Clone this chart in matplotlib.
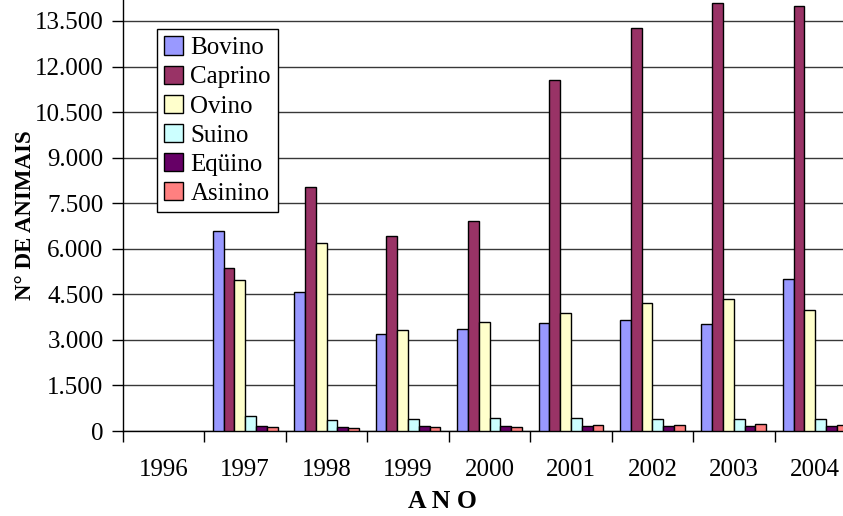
import numpy as np
import matplotlib
matplotlib.use("Agg")
import matplotlib.pyplot as plt
from matplotlib.ticker import FuncFormatter, MultipleLocator, FixedLocator

plt.rcParams['font.family'] = ['Liberation Serif', 'DejaVu Serif']

anos = ['1996', '1997', '1998', '1999', '2000', '2001', '2002', '2003', '2004']
nan = np.nan
bovino = [nan, 6580, 4590, 3210, 3350, 3560, 3660, 3520, 4990]
caprino = [nan, 5360, 8030, 6420, 6930, 11540, 13270, 14080, 14000]
ovino = [nan, 4970, 6180, 3340, 3600, 3890, 4200, 4340, 4000]
suino = [nan, 490, 370, 410, 420, 430, 410, 390, 390]
equino = [nan, 150, 145, 155, 165, 165, 155, 155, 155]
asinino = [nan, 120, 90, 120, 120, 200, 200, 220, 210]

series = [('Bovino', bovino, '#9999FF'),
          ('Caprino', caprino, '#993366'),
          ('Ovino', ovino, '#FFFFCC'),
          ('Suino', suino, '#CCFFFF'),
          ('Eqüino', equino, '#660066'),
          ('Asinino', asinino, '#FF8080')]

fig = plt.figure(figsize=(8.43, 5.16), dpi=100)
ax = fig.add_axes([123/843, 85/516, 733/843, 431/516])

x = np.arange(len(anos))
w = 0.1325
for i, (nome, vals, cor) in enumerate(series):
    ax.bar(x + (i - 2.5) * w, vals, w, color=cor, edgecolor='black',
           linewidth=1, label=nome, zorder=3)

ax.set_xlim(-0.5, len(anos) - 0.5)
ax.set_ylim(0, 14190)
ax.yaxis.set_major_locator(MultipleLocator(1500))
ax.yaxis.set_major_formatter(FuncFormatter(lambda v, p: f"{v:,.0f}".replace(',', '.')))
ax.grid(axis='y', color='#383838', linewidth=1, zorder=0)

ax.set_xticks(x)
ax.set_xticklabels(anos)
ax.xaxis.set_minor_locator(FixedLocator(np.arange(-0.5, len(anos), 1.0)))
ax.tick_params(axis='x', which='major', length=0, pad=20, labelsize=18)
ax.tick_params(axis='x', which='minor', length=8, width=1, direction='out')
ax.tick_params(axis='y', length=8, width=1, pad=6, labelsize=18)

for s in ['top', 'right']:
    ax.spines[s].set_visible(False)
ax.spines['left'].set_linewidth(1)
ax.spines['bottom'].set_linewidth(1)

ax.set_ylabel('N° DE ANIMAIS', fontsize=16.5, fontweight='bold', labelpad=-1)
fig.text(442/843, 1 - 501/516, 'A N O', ha='center', va='center',
         fontsize=18.5, fontweight='bold')

leg = ax.legend(loc='upper left', bbox_to_anchor=(0.046, 0.933), borderaxespad=0,
                fontsize=18, fancybox=False, edgecolor='black', framealpha=1,
                handlelength=0.75, handleheight=0.75, handletextpad=0.3,
                labelspacing=0.25, borderpad=0.3)
leg.get_frame().set_linewidth(1)

fig.savefig('out.png', dpi=100)
